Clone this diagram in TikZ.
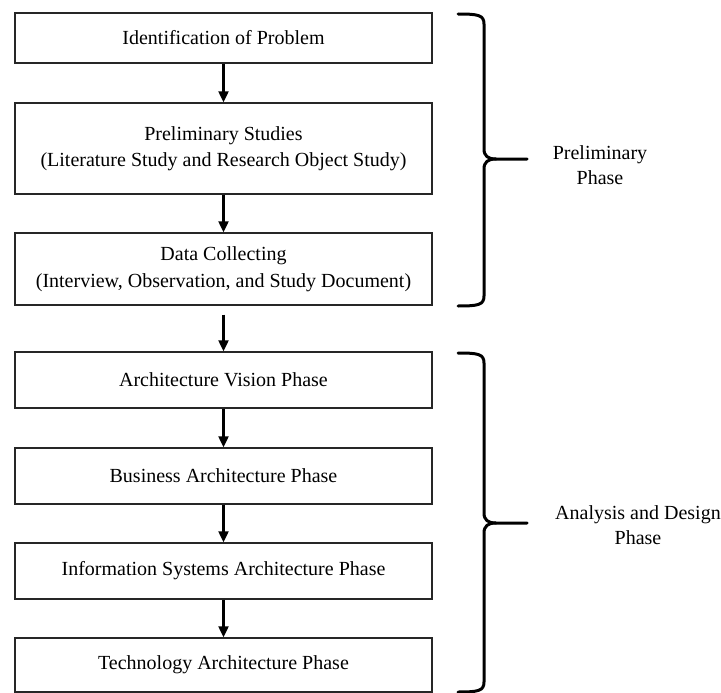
\documentclass[tikz,border=0pt]{standalone}
\usepackage{fontspec}
\setmainfont{Liberation Serif}
\usetikzlibrary{arrows.meta}

\begin{document}
\begin{tikzpicture}[x=1pt,y=-1pt,
	stepbox/.style={draw=black!85, line width=1.4pt, minimum width=417pt, align=center, inner sep=0pt, font=\fontsize{20}{26.5}\selectfont},
	flow/.style={line width=2.2pt, -{Triangle[length=11pt,width=10pt]}},
	phasebrace/.style={line width=3pt, line cap=round},
	phaselabel/.style={align=center, font=\fontsize{20}{25}\selectfont}]
	\useasboundingbox (0,0) rectangle (721,693);

	% steps
	\node[stepbox, minimum height=50pt] (ident) at (223.5,38) {Identification of Problem};
	\node[stepbox, minimum height=91pt] (prelim) at (223.5,148.5) {Preliminary Studies\\(Literature Study and Research Object Study)};
	\node[stepbox, minimum height=72pt] (data) at (223.5,269) {Data Collecting\\(Interview, Observation, and Study Document)};
	\node[stepbox, minimum height=56pt] (vision) at (223.5,380) {Architecture Vision Phase};
	\node[stepbox, minimum height=56pt] (business) at (223.5,476) {Business Architecture Phase};
	\node[stepbox, minimum height=56pt] (infosys) at (223.5,571) {Information Systems Architecture Phase};
	\node[stepbox, minimum height=54pt] (techno) at (223.5,665) {Technology Architecture Phase};

	\draw[flow] (ident) -- (prelim);
	\draw[flow] (prelim) -- (data);
	\draw[flow, shorten <=9pt] (data) -- (vision);
	\draw[flow] (vision) -- (business);
	\draw[flow] (business) -- (infosys);
	\draw[flow] (infosys) -- (techno);

	% braces
	\coordinate (tipA) at (527,159);
	\coordinate (tipB) at (527,523);
	\draw[phasebrace] (458,14) .. controls (478,14) and (484,15) .. (484,24) -- (484,149)
	  .. controls (484,156) and (488,159) .. (496,159) -- (tipA);
	\draw[phasebrace] (458,306) .. controls (478,306) and (484,305) .. (484,296) -- (484,169)
	  .. controls (484,162) and (488,159) .. (496,159);
	\draw[phasebrace] (458,353) .. controls (478,353) and (484,354) .. (484,363) -- (484,513)
	  .. controls (484,520) and (488,523) .. (496,523) -- (tipB);
	\draw[phasebrace] (458,692) .. controls (478,692) and (484,691) .. (484,682) -- (484,533)
	  .. controls (484,526) and (488,523) .. (496,523);

	\node[phaselabel] (prelimphase) at (600,165) {Preliminary\\Phase};
	\node[phaselabel] (designphase) at (638,525) {Analysis and Design\\Phase};
\end{tikzpicture}
\end{document}
